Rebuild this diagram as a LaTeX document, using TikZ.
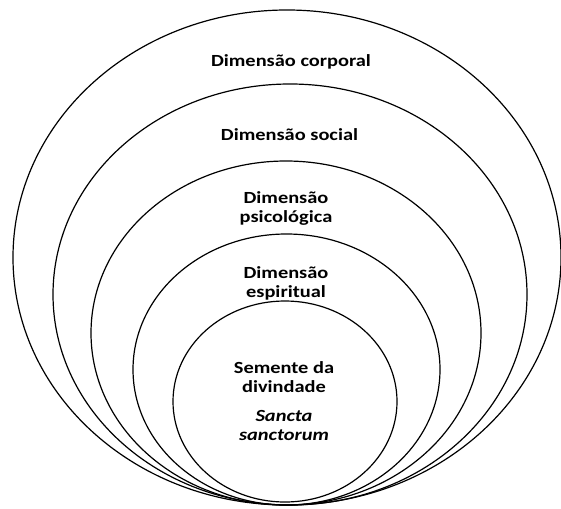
\documentclass[tikz,border=0pt]{standalone}
\usepackage{fontspec}
\setmainfont{Carlito}[FakeStretch=1.2]
\usetikzlibrary{shapes.geometric}
\begin{document}
\begin{tikzpicture}[x=1pt,y=-1pt,
  ring/.style={ellipse, draw=black, line width=1.2pt, inner sep=0pt},
  lbl/.style={font=\fontsize{17}{19}\selectfont\bfseries, align=center, inner sep=0pt, text=black}]
\useasboundingbox (0,0) rectangle (561,508);
\node[ring, minimum width=548pt, minimum height=495pt] (e1) at (287,257.5) {};
\node[ring, minimum width=474pt, minimum height=421pt] (e2) at (290,294.5) {};
\node[ring, minimum width=390pt, minimum height=344pt] (e3) at (286,333) {};
\node[ring, minimum width=307pt, minimum height=271pt] (e4) at (286.5,369.5) {};
\node[ring, minimum width=224pt, minimum height=201pt] (e5) at (285,401.5) {};
\node[lbl, anchor=base] (t1) at (291,67) {Dimensão corporal};
\node[lbl, anchor=base] (t2) at (289.5,140) {Dimensão social};
\node[lbl, anchor=base] (t3) at (286,222) {Dimensão\\psicológica};
\node[lbl, anchor=base] (t4) at (286,297) {Dimensão\\espiritual};
\node[lbl, anchor=base] (t5) at (284,440) {Semente da\\divindade\\[10pt]\itshape Sancta\\\itshape sanctorum};
\end{tikzpicture}
\end{document}
